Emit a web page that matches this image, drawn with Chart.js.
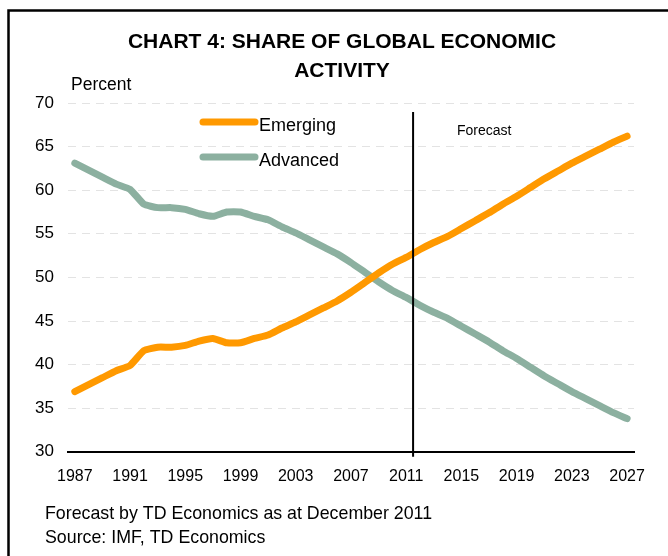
<!DOCTYPE html>
<html>
<head>
<meta charset="utf-8">
<script src="https://cdn.jsdelivr.net/npm/chart.js@4"></script>
<style>
  html, body { margin: 0; padding: 0; background: #fff; }
  #wrap { width: 668px; height: 556px; position: relative; }
</style>
</head>
<body>
<div id="wrap"><canvas id="chart" width="668" height="556"></canvas></div>
<script>
// years 1987 - 2027, forecast starts after 2011
const years = ["1987","1988","1989","1990","1991","1992","1993","1994","1995","1996",
  "1997","1998","1999","2000","2001","2002","2003","2004","2005","2006",
  "2007","2008","2009","2010","2011","2012","2013","2014","2015","2016",
  "2017","2018","2019","2020","2021","2022","2023","2024","2025","2026","2027"];

const emerging = [36.9, 37.7, 38.5, 39.3, 39.9, 41.6, 42.0, 42.0, 42.2, 42.7,
  43.0, 42.5, 42.5, 43.0, 43.4, 44.2, 44.9, 45.7, 46.5, 47.3,
  48.3, 49.4, 50.5, 51.5, 52.3, 53.2, 54.0, 54.7, 55.6, 56.5,
  57.4, 58.4, 59.3, 60.3, 61.3, 62.2, 63.1, 63.9, 64.7, 65.5, 66.2];

const advanced = [63.1, 62.3, 61.5, 60.7, 60.1, 58.4, 58.0, 58.0, 57.8, 57.3,
  57.0, 57.5, 57.5, 57.0, 56.6, 55.8, 55.1, 54.3, 53.5, 52.7,
  51.7, 50.6, 49.5, 48.5, 47.7, 46.8, 46.0, 45.3, 44.4, 43.5,
  42.6, 41.6, 40.7, 39.7, 38.7, 37.8, 36.9, 36.1, 35.3, 34.5, 33.8];

const yTicks = [30, 35, 40, 45, 50, 55, 60, 65, 70];
const lastActual = "2011";

const ORANGE = "#ff9900";
const GREEN = "#8cb0a0";
const FONT = "'Liberation Sans', Arial, sans-serif";

// frame, titles, legend, forecast divider, footnotes
const extras = {
  id: 'extras',
  afterDraw(chart) {
    const ctx = chart.ctx;
    const x = chart.scales.x, y = chart.scales.y;
    ctx.save();

    // outer frame (cropped on right and bottom)
    ctx.strokeStyle = "#000";
    ctx.lineWidth = 2.5;
    ctx.beginPath();
    ctx.moveTo(8.5, 600);
    ctx.lineTo(8.5, 10.5);
    ctx.lineTo(700, 10.5);
    ctx.stroke();

    // forecast divider between 2011 and 2012
    const i = years.indexOf(lastActual);
    const xd = (x.getPixelForValue(i) + x.getPixelForValue(i + 1)) / 2;
    ctx.lineWidth = 2;
    ctx.beginPath();
    ctx.moveTo(xd, 112);
    ctx.lineTo(xd, y.bottom + 5);
    ctx.stroke();

    ctx.fillStyle = "#000";
    ctx.textBaseline = "middle";

    // title
    ctx.textAlign = "center";
    ctx.font = "bold 21px " + FONT;
    ctx.fillText("CHART 4: SHARE OF GLOBAL ECONOMIC", 342, 42);
    ctx.fillText("ACTIVITY", 342, 71);

    ctx.textAlign = "left";
    ctx.font = "17.5px " + FONT;
    ctx.fillText("Percent", 71, 85);

    // legend
    const items = [["Emerging", ORANGE, 122], ["Advanced", GREEN, 157]];
    items.forEach(([label, col, ly]) => {
      ctx.strokeStyle = col;
      ctx.lineWidth = 7;
      ctx.lineCap = "round";
      ctx.beginPath();
      ctx.moveTo(203, ly);
      ctx.lineTo(255, ly);
      ctx.stroke();
      ctx.fillStyle = "#000";
      ctx.font = "18px " + FONT;
      ctx.fillText(label, 259, ly + 4);
    });

    ctx.font = "14px " + FONT;
    ctx.fillText("Forecast", 457, 131);

    // footnotes
    ctx.font = "17.8px " + FONT;
    ctx.fillText("Forecast by TD Economics as at December 2011", 45, 514);
    ctx.fillText("Source: IMF, TD Economics", 45, 538);

    ctx.restore();
  }
};

new Chart(document.getElementById('chart').getContext('2d'), {
  type: 'line',
  data: {
    labels: years,
    datasets: [{
      label: "Emerging",
      data: emerging,
      borderColor: ORANGE,
      backgroundColor: ORANGE,
      borderWidth: 7,
      borderCapStyle: 'round',
      borderJoinStyle: 'round',
      pointRadius: 0,
      tension: 0.15
    }, {
      label: "Advanced",
      data: advanced,
      borderColor: GREEN,
      backgroundColor: GREEN,
      borderWidth: 7,
      borderCapStyle: 'round',
      borderJoinStyle: 'round',
      pointRadius: 0,
      tension: 0.15
    }]
  },
  options: {
    responsive: false,
    animation: false,
    layout: { padding: { left: 21, right: 34, top: 103, bottom: 55 } },
    plugins: {
      legend: { display: false },
      tooltip: { enabled: false }
    },
    scales: {
      x: {
        offset: true,
        grid: { display: false, drawTicks: false },
        border: { color: "#000", width: 2 },
        ticks: {
          autoSkip: false,
          maxRotation: 0,
          padding: 15,
          color: "#000",
          font: { family: FONT, size: 16 },
          callback: function (v, idx) { return idx % 4 === 0 ? years[idx] : null; }
        }
      },
      y: {
        min: yTicks[0],
        max: yTicks[yTicks.length - 1],
        afterBuildTicks: (axis) => { axis.ticks = yTicks.map(v => ({ value: v })); },
        grid: { color: "#e3e3e3", lineWidth: 1, drawTicks: false },
        border: { display: false, dash: [8, 6] },
        ticks: {
          padding: 14,
          color: "#000",
          font: { family: FONT, size: 17 }
        }
      }
    }
  },
  plugins: [extras]
});
</script>
</body>
</html>
